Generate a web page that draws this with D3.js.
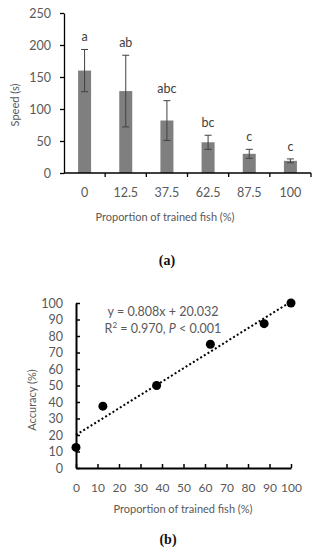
<!DOCTYPE html>
<html>
<head>
<meta charset="utf-8">
<script src="https://cdn.jsdelivr.net/npm/d3@7"></script>
<style>
  body { margin: 0; background: #fff; }
  svg { display: block; font-family: Lato, "Open Sans", sans-serif; }
</style>
</head>
<body>
<div id="chart"></div>
<script>
const w = 321;
const h = 550;

// panel (a) data
const groups = ["0", "12.5", "37.5", "62.5", "87.5", "100"];
const speed = [160, 128, 82, 48, 30, 19];
const speedErr = [33, 56, 31, 11, 7, 3];
const letters = ["a", "ab", "abc", "bc", "c", "c"];
const speedTicks = [0, 50, 100, 150, 200, 250];

// panel (b) data
const proportion = [0, 12.5, 37.5, 62.5, 87.5, 100];
const accuracy = [12.5, 37.5, 50, 75, 87.5, 100];
const fitSlope = 0.808;
const fitIntercept = 20.032;
const accTicks = d3.range(0, 101, 10);

const svg = d3
  .select("#chart")
  .append("svg")
  .attr("width", w)
  .attr("height", h);

const labelColor = "#595959";

// ---------- panel (a) ----------
const xA = d3.scaleBand().domain(groups).range([64, 311]);
const yA = d3.scaleLinear().domain([0, 250]).range([173, 13]);
const barW = 13;

const gA = svg.append("g");

gA.selectAll("rect")
  .data(speed)
  .enter()
  .append("rect")
  .attr("x", (d, i) => xA(groups[i]) + xA.bandwidth() / 2 - barW / 2)
  .attr("y", (d) => yA(d))
  .attr("width", barW)
  .attr("height", (d) => yA(0) - yA(d))
  .attr("fill", "#7f7f7f");

// error bars
const err = gA.selectAll(".err")
  .data(speed)
  .enter()
  .append("g")
  .attr("class", "err")
  .attr("stroke", "#404040")
  .attr("stroke-width", 1);

err.append("line")
  .attr("x1", (d, i) => xA(groups[i]) + xA.bandwidth() / 2)
  .attr("x2", (d, i) => xA(groups[i]) + xA.bandwidth() / 2)
  .attr("y1", (d, i) => yA(d + speedErr[i]))
  .attr("y2", (d, i) => yA(d - speedErr[i]));
[1, -1].forEach((s) => {
  err.append("line")
    .attr("x1", (d, i) => xA(groups[i]) + xA.bandwidth() / 2 - 3.5)
    .attr("x2", (d, i) => xA(groups[i]) + xA.bandwidth() / 2 + 3.5)
    .attr("y1", (d, i) => yA(d + s * speedErr[i]))
    .attr("y2", (d, i) => yA(d + s * speedErr[i]));
});

// significance letters
gA.selectAll(".letter")
  .data(letters)
  .enter()
  .append("text")
  .attr("class", "letter")
  .attr("x", (d, i) => xA(groups[i]) + xA.bandwidth() / 2)
  .attr("y", (d, i) => yA(speed[i] + speedErr[i]) - 8)
  .attr("text-anchor", "middle")
  .attr("font-size", 12.5)
  .attr("fill", "#404040")
  .text((d) => d);

// y axis
const axA = gA.append("g")
  .attr("transform", "translate(64,0)")
  .call(d3.axisLeft(yA).tickValues(speedTicks).tickSize(4).tickPadding(9).tickSizeOuter(0));
axA.select(".domain").attr("stroke", "#000").attr("stroke-width", 1.3);
axA.selectAll(".tick line").attr("stroke", "#000").attr("stroke-width", 1.3);
axA.selectAll("text").attr("font-size", 12.5).attr("fill", labelColor).attr("font-family", "Lato");

// x axis
gA.append("line")
  .attr("x1", 64).attr("x2", 311)
  .attr("y1", yA(0)).attr("y2", yA(0))
  .attr("stroke", "#000").attr("stroke-width", 1.3);
gA.selectAll(".xtick")
  .data(groups.slice(1).concat(["end"]))
  .enter()
  .append("line")
  .attr("x1", (d) => (d === "end" ? xA.range()[1] : xA(d)))
  .attr("x2", (d) => (d === "end" ? xA.range()[1] : xA(d)))
  .attr("y1", yA(0))
  .attr("y2", yA(0) + 4)
  .attr("stroke", "#000")
  .attr("stroke-width", 1.3);
gA.selectAll(".xlab")
  .data(groups)
  .enter()
  .append("text")
  .attr("x", (d) => xA(d) + xA.bandwidth() / 2)
  .attr("y", 197)
  .attr("text-anchor", "middle")
  .attr("font-size", 12.5)
  .attr("fill", labelColor)
  .text((d) => d);

gA.append("text")
  .attr("x", 165)
  .attr("y", 221)
  .attr("text-anchor", "middle")
  .attr("font-size", 11)
  .attr("fill", labelColor)
  .text("Proportion of trained fish (%)");

gA.append("text")
  .attr("transform", "translate(19,105) rotate(-90)")
  .attr("text-anchor", "middle")
  .attr("font-size", 11)
  .attr("fill", labelColor)
  .text("Speed (s)");

svg.append("text")
  .attr("x", 167)
  .attr("y", 265)
  .attr("text-anchor", "middle")
  .attr("font-family", "'Liberation Serif', serif")
  .attr("font-weight", "bold")
  .attr("font-size", 14)
  .attr("fill", "#111")
  .text("(a)");

// ---------- panel (b) ----------
const xB = d3.scaleLinear().domain([0, 100]).range([76, 291]);
const yB = d3.scaleLinear().domain([0, 100]).range([468, 303]);

const gB = svg.append("g");

const axBy = gB.append("g")
  .attr("transform", "translate(76,0)")
  .call(d3.axisLeft(yB).tickValues(accTicks).tickSize(-4).tickPadding(13).tickSizeOuter(0));
axBy.select(".domain").attr("stroke", "#000").attr("stroke-width", 2);
axBy.selectAll(".tick line").attr("stroke", "#000").attr("stroke-width", 1.5);
axBy.selectAll("text").attr("font-size", 12.5).attr("fill", labelColor).attr("font-family", "Lato");

const axBx = gB.append("g")
  .attr("transform", "translate(0,468)")
  .call(d3.axisBottom(xB).tickValues(accTicks).tickSize(-4).tickPadding(15).tickSizeOuter(0));
axBx.select(".domain").attr("stroke", "#000").attr("stroke-width", 2);
axBx.selectAll(".tick line").attr("stroke", "#000").attr("stroke-width", 1.5);
axBx.selectAll("text").attr("font-size", 12).attr("fill", labelColor).attr("font-family", "Lato");

// trend line
gB.append("line")
  .attr("x1", xB(0))
  .attr("y1", yB(fitIntercept))
  .attr("x2", xB(100))
  .attr("y2", yB(fitSlope * 100 + fitIntercept))
  .attr("stroke", "#000")
  .attr("stroke-width", 2)
  .attr("stroke-dasharray", "2,2.3");

gB.selectAll("circle")
  .data(accuracy)
  .enter()
  .append("circle")
  .attr("cx", (d, i) => xB(proportion[i]))
  .attr("cy", (d) => yB(d))
  .attr("r", 4.5)
  .attr("fill", "#000");

gB.append("text")
  .attr("x", 163)
  .attr("y", 316)
  .attr("text-anchor", "middle")
  .attr("font-size", 12.5)
  .attr("fill", labelColor)
  .text("y = 0.808x + 20.032");

const r2 = gB.append("text")
  .attr("x", 163)
  .attr("y", 333)
  .attr("text-anchor", "middle")
  .attr("font-size", 12.5)
  .attr("fill", labelColor);
r2.append("tspan").text("R");
r2.append("tspan").attr("font-size", 8).attr("dy", -5).text("2");
r2.append("tspan").attr("dy", 5).text(" = 0.970, ");
r2.append("tspan").attr("font-style", "italic").text("P");
r2.append("tspan").text(" < 0.001");

gB.append("text")
  .attr("x", 183)
  .attr("y", 513)
  .attr("text-anchor", "middle")
  .attr("font-size", 11)
  .attr("fill", labelColor)
  .text("Proportion of trained fish (%)");

gB.append("text")
  .attr("transform", "translate(36,400) rotate(-90)")
  .attr("text-anchor", "middle")
  .attr("font-size", 11)
  .attr("fill", labelColor)
  .text("Accuracy (%)");

svg.append("text")
  .attr("x", 168)
  .attr("y", 544)
  .attr("text-anchor", "middle")
  .attr("font-family", "'Liberation Serif', serif")
  .attr("font-weight", "bold")
  .attr("font-size", 14)
  .attr("fill", "#111")
  .text("(b)");
</script>
</body>
</html>
